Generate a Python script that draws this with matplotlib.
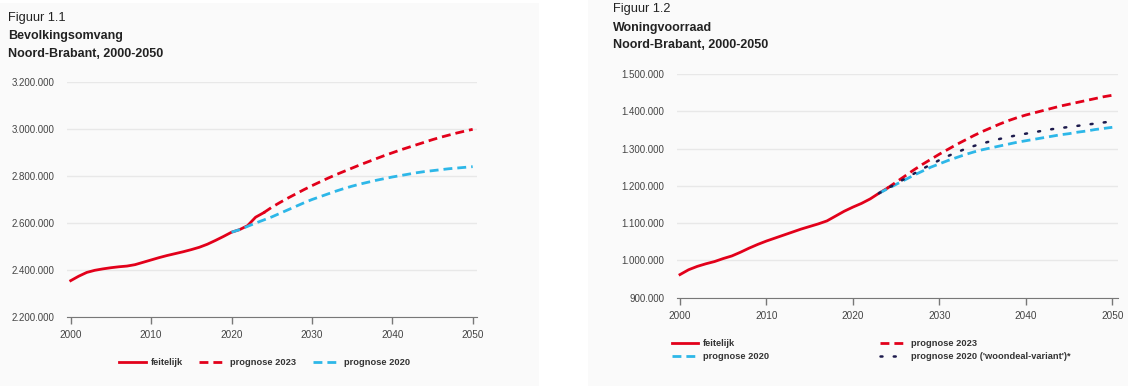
import numpy as np
import matplotlib.pyplot as plt
from matplotlib.patches import Rectangle
from matplotlib.ticker import FuncFormatter

plt.rcParams['font.family'] = ['Liberation Sans', 'DejaVu Sans']

RED = '#e2001a'
BLUE = '#2db7e8'
NAVY = '#1e1b4d'

# Figuur 1.1 - bevolkingsomvang (x 1.000.000)
pop_years = list(range(2000, 2025))
pop_actual = [2.356, 2.375, 2.391, 2.400, 2.406, 2.411, 2.415, 2.418, 2.424, 2.434,
              2.444, 2.454, 2.463, 2.471, 2.479, 2.488, 2.498, 2.511, 2.527, 2.544,
              2.562, 2.573, 2.590, 2.626, 2.645]
pop_p23_years = list(range(2024, 2051))
pop_p23 = [2.645, 2.668, 2.688, 2.707, 2.725, 2.743, 2.760, 2.776, 2.792, 2.807,
           2.821, 2.835, 2.849, 2.862, 2.875, 2.888, 2.900, 2.912, 2.923, 2.934,
           2.945, 2.956, 2.966, 2.975, 2.984, 2.992, 3.000]
pop_p20_years = list(range(2020, 2051))
pop_p20 = [2.562, 2.573, 2.587, 2.601, 2.614, 2.627, 2.642, 2.657, 2.672, 2.687,
           2.701, 2.713, 2.725, 2.737, 2.748, 2.758, 2.767, 2.775, 2.783, 2.790,
           2.797, 2.803, 2.809, 2.815, 2.820, 2.824, 2.828, 2.832, 2.835, 2.838,
           2.841]

# Figuur 1.2 - woningvoorraad (x 1.000.000)
won_years = list(range(2000, 2025))
won_actual = [0.962, 0.975, 0.984, 0.991, 0.997, 1.005, 1.012, 1.022, 1.033, 1.043,
              1.052, 1.060, 1.068, 1.076, 1.084, 1.091, 1.098, 1.106, 1.119, 1.132,
              1.143, 1.153, 1.165, 1.180, 1.194]
won_p23_years = list(range(2024, 2051))
won_p23 = [1.194, 1.210, 1.226, 1.242, 1.257, 1.271, 1.285, 1.298, 1.311, 1.323,
           1.335, 1.346, 1.356, 1.366, 1.375, 1.383, 1.390, 1.396, 1.402, 1.408,
           1.414, 1.419, 1.424, 1.429, 1.434, 1.439, 1.443]
won_p20_years = list(range(2023, 2051))
won_p20 = [1.180, 1.192, 1.204, 1.216, 1.228, 1.239, 1.250, 1.259, 1.268, 1.276,
           1.284, 1.291, 1.297, 1.302, 1.307, 1.312, 1.317, 1.321, 1.325, 1.329,
           1.333, 1.337, 1.340, 1.344, 1.347, 1.351, 1.354, 1.357]
won_deal = [1.180, 1.193, 1.206, 1.219, 1.232, 1.245, 1.257, 1.269, 1.280, 1.290,
            1.299, 1.307, 1.314, 1.320, 1.326, 1.331, 1.336, 1.340, 1.344, 1.348,
            1.352, 1.355, 1.358, 1.361, 1.364, 1.367, 1.370, 1.373]


def dutch(v, pos):
    return f'{v * 1e6:,.0f}'.replace(',', '.')


def style_axes(ax, ylim, yticks, xlim):
    ax.set_facecolor('none')
    ax.set_xlim(*xlim)
    ax.set_ylim(*ylim)
    ax.set_yticks(yticks)
    ax.set_xticks(range(2000, 2051, 10))
    ax.yaxis.set_major_formatter(FuncFormatter(dutch))
    ax.grid(axis='y', color='#e8e8e8', lw=1)
    ax.set_axisbelow(True)
    for s in ['top', 'right', 'left']:
        ax.spines[s].set_visible(False)
    ax.spines['bottom'].set_color('#777777')
    ax.tick_params(axis='y', length=0, pad=9, labelsize=7, labelcolor='#444444')
    ax.tick_params(axis='x', length=5, width=1, color='#777777', pad=4.5,
                   labelsize=7.2, labelcolor='#444444')


fig = plt.figure(figsize=(11.28, 3.86), dpi=100)
fig.patch.set_facecolor('white')
W, H = 1128, 386
fig.patches.append(Rectangle((0, 0), 539 / W, 383 / H, transform=fig.transFigure,
                             facecolor='#fafafa', edgecolor='none', zorder=-10))
fig.patches.append(Rectangle((588 / W, 0), 540 / W, 1, transform=fig.transFigure,
                             facecolor='#fafafa', edgecolor='none', zorder=-10))

dash = (3.2, 1.8)
leg_font = {'size': 6.7, 'weight': 'bold'}

# left chart
ax1 = fig.add_axes([66.7 / W, 1 - 317.3 / H, 410 / W, 235 / H])
style_axes(ax1, (2.2, 3.2), np.arange(2.2, 3.21, 0.2), (1999.5, 2050.5))
ax1.plot(pop_years, pop_actual, color=RED, lw=2, label='feitelijk')
ax1.plot(pop_p23_years, pop_p23, color=RED, lw=2, dashes=dash, label='prognose 2023')
ax1.plot(pop_p20_years, pop_p20, color=BLUE, lw=2, dashes=dash, label='prognose 2020')
fig.legend(*ax1.get_legend_handles_labels(), loc='upper left',
           bbox_to_anchor=(119.3 / W, 1 - 358 / H), ncol=3, frameon=False,
           borderpad=0, borderaxespad=0, handlelength=2.86, handletextpad=0.48,
           columnspacing=1.8, prop=leg_font, labelcolor='#333333')

fig.text(8 / W, 1 - 17.5 / H, 'Figuur 1.1', fontsize=9.2, color='#222222', va='center')
fig.text(8 / W, 1 - 36.5 / H, 'Bevolkingsomvang', fontsize=9, fontweight='bold',
         color='#222222', va='center')
fig.text(8 / W, 1 - 54 / H, 'Noord-Brabant, 2000-2050', fontsize=9,
         fontweight='bold', color='#222222', va='center')

# right chart
ax2 = fig.add_axes([676.7 / W, 1 - 297.7 / H, 441.3 / W, 223.7 / H])
style_axes(ax2, (0.9, 1.5), np.arange(0.9, 1.51, 0.1), (1999.62, 2050.66))
ax2.plot(won_years, won_actual, color=RED, lw=2, label='feitelijk')
ax2.plot(won_p20_years, won_p20, color=BLUE, lw=2, dashes=dash, label='prognose 2020')
ax2.plot(won_p23_years, won_p23, color=RED, lw=2, dashes=dash, label='prognose 2023')
ax2.plot(won_p20_years, won_deal, color=NAVY, lw=1.8, dashes=(0.8, 4.5),
         dash_capstyle='round', label="prognose 2020 ('woondeal-variant')*")
h, l = ax2.get_legend_handles_labels()
order = [0, 1, 2, 3]
fig.legend([h[i] for i in order], [l[i] for i in order], loc='upper left',
           bbox_to_anchor=(671.7 / W, 1 - 339 / H), ncol=2, frameon=False,
           borderpad=0, borderaxespad=0, handlelength=2.86, handletextpad=0.48,
           columnspacing=11.9, labelspacing=0.45,
           prop=leg_font, labelcolor='#333333')

fig.text(612.7 / W, 1 - 9 / H, 'Figuur 1.2', fontsize=9.2, color='#222222', va='center')
fig.text(612.7 / W, 1 - 27.5 / H, 'Woningvoorraad', fontsize=9, fontweight='bold',
         color='#222222', va='center')
fig.text(612.7 / W, 1 - 45.5 / H, 'Noord-Brabant, 2000-2050', fontsize=9,
         fontweight='bold', color='#222222', va='center')

fig.savefig('out.png', dpi=100, facecolor=fig.get_facecolor())
